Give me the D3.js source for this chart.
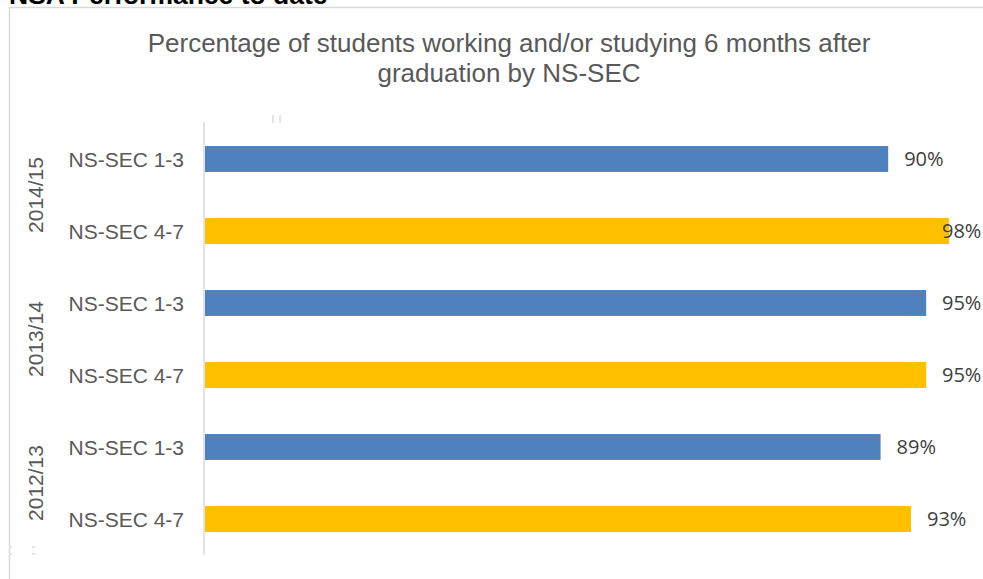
<!DOCTYPE html>
<html>
<head>
<meta charset="utf-8">
<script src="https://cdn.jsdelivr.net/npm/d3@7"></script>
<style>
html,body{margin:0;padding:0;background:#fff;}
svg{display:block;}
</style>
</head>
<body>
<svg id="chart" width="983" height="579"></svg>
<script>
const pageHeading = "NSA Performance to date";
const titleLines = ["Percentage of students working and/or studying 6 months after", "graduation by NS-SEC"];
const years = ["2014/15", "2013/14", "2012/13"];
const groups = ["NS-SEC 1-3", "NS-SEC 4-7"];
const values2014 = [90, 98];
const values2013 = [95, 95];
const values2012 = [89, 93];
const seriesColors = ["#4f81bd", "#ffc000"];

const rows = [];
[values2014, values2013, values2012].forEach((vals, yi) => {
  vals.forEach((v, gi) => {
    rows.push({year: years[yi], group: groups[gi], value: v, gi: gi, key: years[yi] + "|" + groups[gi]});
  });
});

const W = 983, H = 579;
const svg = d3.select("#chart");

const x = d3.scaleLinear().domain([0, 98]).range([204, 949]);
const y = d3.scaleBand().domain(rows.map(d => d.key)).range([123, 555]).paddingInner(0.64).paddingOuter(0.32);

// frame
svg.append("path").attr("d", `M9.5,${H} V7.5 H${W}`).attr("fill", "none").attr("stroke", "#d9d9d9").attr("stroke-width", 1.5);

// heading (cut off at top, as in the source)
svg.append("text").attr("x", 9).attr("y", 4).attr("font-family", "Liberation Sans, Arial, sans-serif")
  .attr("font-weight", "bold").attr("font-size", 26.5).attr("fill", "#000").text(pageHeading);

// title
svg.selectAll(".title").data(titleLines).join("text").attr("class", "title")
  .attr("x", 509).attr("y", (d, i) => 52 + i * 30).attr("text-anchor", "middle")
  .attr("font-family", "Liberation Sans, Arial, sans-serif").attr("font-size", 26).attr("fill", "#595959").text(d => d);

// axis line
svg.append("line").attr("x1", x(0)).attr("x2", x(0)).attr("y1", 122).attr("y2", 555)
  .attr("stroke", "#d9d9d9").attr("stroke-width", 1.5);

// bars
svg.selectAll(".bar").data(rows).join("rect").attr("class", "bar")
  .attr("x", x(0) + 1).attr("y", d => y(d.key)).attr("height", y.bandwidth())
  .attr("width", d => x(d.value) - x(0) - 1).attr("fill", d => seriesColors[d.gi]);

// value labels
svg.selectAll(".val").data(rows).join("text").attr("class", "val")
  .attr("x", d => Math.min(x(d.value) + 16, W - 41))
  .attr("y", d => y(d.key) + y.bandwidth() / 2).attr("dy", "0.36em")
  .attr("font-family", "Open Sans, sans-serif").attr("font-size", 20).attr("fill", "#404040")
  .text(d => d.value + "%");

// category labels
svg.selectAll(".cat").data(rows).join("text").attr("class", "cat")
  .attr("x", 184).attr("y", d => y(d.key) + y.bandwidth() / 2).attr("dy", "0.36em")
  .attr("text-anchor", "end").attr("font-family", "Liberation Sans, Arial, sans-serif")
  .attr("font-size", 21).attr("fill", "#595959").text(d => d.group);

// year labels (rotated)
years.forEach(yr => {
  const c1 = y(yr + "|" + groups[0]) + y.bandwidth() / 2;
  const c2 = y(yr + "|" + groups[1]) + y.bandwidth() / 2;
  const cy = (c1 + c2) / 2;
  svg.append("text").attr("transform", `translate(35,${cy}) rotate(-90)`)
    .attr("text-anchor", "middle").attr("dy", "0.36em")
    .attr("font-family", "Liberation Sans, Arial, sans-serif").attr("font-size", 21)
    .attr("fill", "#595959").text(yr);
});

// small artifact marks
const marks = [[272,115,2,8],[279,115,2,8],[9,546,3,2],[9,553,3,2],[32,546,3,2],[32,553,3,2]];
svg.selectAll(".mk").data(marks).join("rect").attr("class","mk")
  .attr("x", d => d[0]).attr("y", d => d[1]).attr("width", d => d[2]).attr("height", d => d[3]).attr("fill", "#e4e4e4");
</script>
</body>
</html>
